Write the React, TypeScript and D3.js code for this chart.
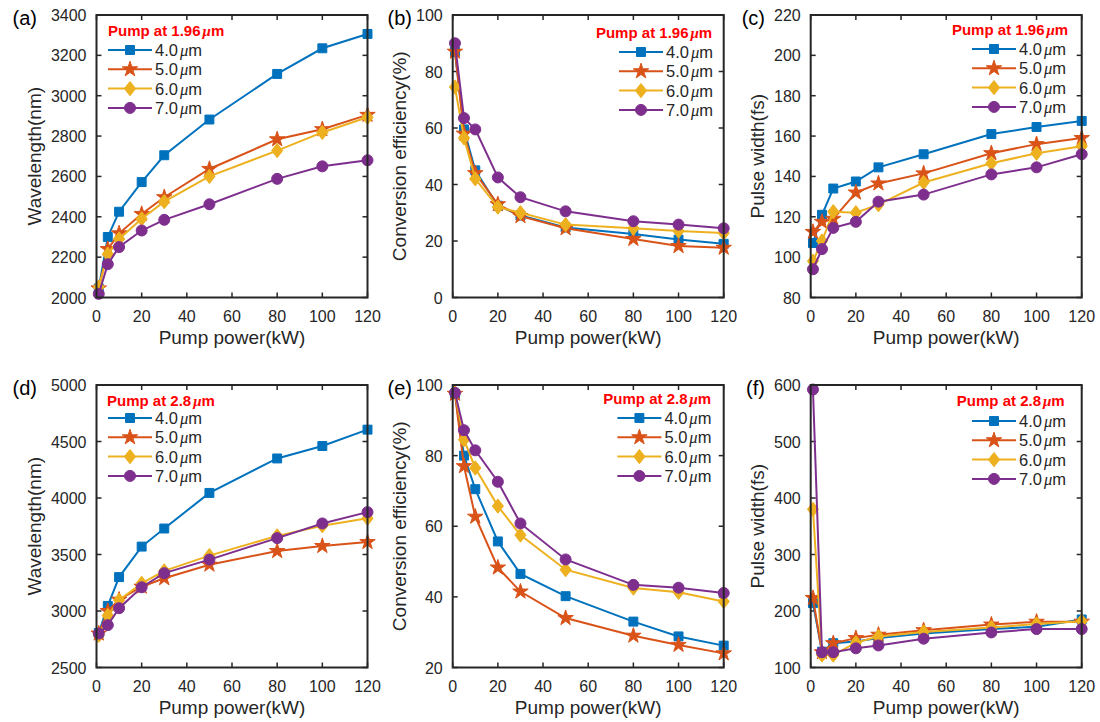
import React from "react";
import * as d3 from "d3";

// ---------------- data ----------------
const power = [1, 5, 10, 20, 30, 50, 80, 100, 120];
const seriesLabels = ["4.0", "5.0", "6.0", "7.0"];
const seriesColors = ["#0072BD", "#D95319", "#EDB120", "#7E2F8E"];
const seriesMarkers = ["square", "star", "diamond", "circle"];
const xTicks = [0, 20, 40, 60, 80, 100, 120];

// (a) wavelength, pump 1.96 um
const wlA_4 = [2045, 2300, 2425, 2572, 2705, 2882, 3108, 3235, 3306];
const wlA_5 = [2045, 2240, 2318, 2414, 2497, 2637, 2784, 2834, 2905];
const wlA_6 = [2052, 2215, 2290, 2390, 2475, 2600, 2728, 2818, 2893];
const wlA_7 = [2018, 2165, 2250, 2332, 2385, 2462, 2588, 2650, 2680];
// (b) conversion efficiency, pump 1.96 um
const ceB_4 = [87, 59.5, 45, 32.5, 29, 24.8, 22.5, 20.5, 19];
const ceB_5 = [87, 58, 44, 33, 28.8, 24.5, 20.7, 18.2, 17.6];
const ceB_6 = [74.5, 56.5, 42, 32, 30, 25.8, 24.5, 23.5, 22.8];
const ceB_7 = [90, 63.5, 59.5, 42.5, 35.5, 30.5, 27, 25.8, 24.5];
// (c) pulse width, pump 1.96 um
const pwC_4 = [107, 121, 134, 137.5, 144.5, 151, 161, 164.5, 167.5];
const pwC_5 = [112.5, 117.5, 119, 132, 136.5, 141.5, 151.5, 156, 159];
const pwC_6 = [98, 108, 122.5, 122, 126, 137, 146.5, 151.5, 155];
const pwC_7 = [94, 104, 114.5, 117.5, 127.5, 131, 141, 144.5, 151];
// (d) wavelength, pump 2.8 um
const wlD_4 = [2805, 3045, 3300, 3570, 3730, 4045, 4350, 4460, 4605];
const wlD_5 = [2800, 3000, 3100, 3215, 3290, 3410, 3530, 3575, 3610];
const wlD_6 = [2785, 2960, 3095, 3245, 3355, 3490, 3665, 3755, 3820];
const wlD_7 = [2800, 2875, 3025, 3210, 3335, 3455, 3645, 3775, 3875];
// (e) conversion efficiency, pump 2.8 um
const ceE_4 = [97.5, 80, 70.5, 55.7, 46.5, 40.2, 33, 28.8, 26.2];
const ceE_5 = [97.5, 77, 62.7, 48.3, 41.5, 34, 29, 26.4, 24];
const ceE_6 = [97.8, 84.5, 76.5, 65.7, 57.5, 47.7, 42.5, 41.3, 38.7];
const ceE_7 = [97.8, 87.2, 81.5, 72.6, 60.8, 50.6, 43.4, 42.6, 41.1];
// (f) pulse width, pump 2.8 um
const pwF_4 = [214, 128, 143, 146, 152, 160, 168, 172, 185];
const pwF_5 = [223, 127, 143, 152, 158, 166, 176, 181, 181];
const pwF_6 = [380, 122, 122, 144, 155, 163, 171, 177, 182];
const pwF_7 = [592, 127, 127, 134, 139, 151, 162, 168, 168];

const yTicksA = [2000, 2200, 2400, 2600, 2800, 3000, 3200, 3400];
const yTicksB = [0, 20, 40, 60, 80, 100];
const yTicksC = [80, 100, 120, 140, 160, 180, 200, 220];
const yTicksD = [2500, 3000, 3500, 4000, 4500, 5000];
const yTicksE = [20, 40, 60, 80, 100];
const yTicksF = [100, 200, 300, 400, 500, 600];

const panels = [
  { tag: "(a)", ylabel: "Wavelength(nm)", pump: "1.96", yTicks: yTicksA, series: [wlA_4, wlA_5, wlA_6, wlA_7] },
  { tag: "(b)", ylabel: "Conversion efficiency(%)", pump: "1.96", yTicks: yTicksB, series: [ceB_4, ceB_5, ceB_6, ceB_7] },
  { tag: "(c)", ylabel: "Pulse width(fs)", pump: "1.96", yTicks: yTicksC, series: [pwC_4, pwC_5, pwC_6, pwC_7] },
  { tag: "(d)", ylabel: "Wavelength(nm)", pump: "2.8", yTicks: yTicksD, series: [wlD_4, wlD_5, wlD_6, wlD_7] },
  { tag: "(e)", ylabel: "Conversion efficiency(%)", pump: "2.8", yTicks: yTicksE, series: [ceE_4, ceE_5, ceE_6, ceE_7] },
  { tag: "(f)", ylabel: "Pulse width(fs)", pump: "2.8", yTicks: yTicksF, series: [pwF_4, pwF_5, pwF_6, pwF_7] },
];

// ---------------- layout ----------------
const colLeft = [96.5, 452.7, 810.7];
const axW = 271;
const rowTop = [15, 385];
const axH = 282.5;
const tagX = [37, 412, 765];
const ylabX = [35, 400, 758];
const legendLayout = [
  { lx: 11.5, anchor: "start", tx: 11.5, ty: 21, ry: 35 },
  { lx: 166.3, anchor: "end", tx: 259.5, ty: 23, ry: 37 },
  { lx: 161.3, anchor: "end", tx: 257.5, ty: 20, ry: 34 },
  { lx: 11.5, anchor: "start", tx: 10.5, ty: 21, ry: 33 },
  { lx: 164.7, anchor: "end", tx: 258.5, ty: 19, ry: 33 },
  { lx: 161.3, anchor: "end", tx: 254, ty: 21, ry: 36 },
];

const INK = "#262626";
const FONT = "'Liberation Sans', Arial, Helvetica, sans-serif";

const diamondType = {
  draw(ctx: any, size: number) {
    const h = Math.sqrt(size) * 0.8;
    const w = h * 0.78;
    ctx.moveTo(0, -h);
    ctx.lineTo(w, 0);
    ctx.lineTo(0, h);
    ctx.lineTo(-w, 0);
    ctx.closePath();
  },
};

function markerPath(kind: string): string {
  if (kind === "square") return d3.symbol(d3.symbolSquare, 80)() as string;
  if (kind === "star") return d3.symbol(d3.symbolStar, 74)() as string;
  if (kind === "diamond") return d3.symbol(diamondType as any, 80)() as string;
  return d3.symbol(d3.symbolCircle, 95)() as string;
}

function Mu() {
  return (
    <tspan fontFamily="'Liberation Serif', 'DejaVu Serif', serif" fontStyle="italic" dx="2">
      μ
    </tspan>
  );
}

function Panel({ p, i }: { p: any; i: number }) {
  const col = i % 3;
  const row = Math.floor(i / 3);
  const x0 = colLeft[col];
  const y0 = rowTop[row];
  const yd = [p.yTicks[0], p.yTicks[p.yTicks.length - 1]];
  const x = d3.scaleLinear().domain([0, 120]).range([x0, x0 + axW]);
  const y = d3.scaleLinear().domain(yd).range([y0 + axH, y0]);
  const line = d3
    .line<number>()
    .x((_, k) => x(power[k]))
    .y((v) => y(v));
  const tl = 5;
  const lg = legendLayout[i];
  const lx0 = x0 + lg.lx;
  const lineLen = 44;
  return (
    <g>
      {xTicks.map((t) => (
        <g key={"xt" + t}>
          <line x1={x(t)} x2={x(t)} y1={y0 + axH} y2={y0 + axH - tl} stroke={INK} strokeWidth={1.5} />
          <line x1={x(t)} x2={x(t)} y1={y0} y2={y0 + tl} stroke={INK} strokeWidth={1.5} />
          <text x={x(t)} y={y0 + axH + 24} textAnchor="middle" fontSize={16} fill={INK} fontFamily={FONT}>
            {t}
          </text>
        </g>
      ))}
      {p.yTicks.map((t: number) => (
        <g key={"yt" + t}>
          <line x1={x0} x2={x0 + tl} y1={y(t)} y2={y(t)} stroke={INK} strokeWidth={1.5} />
          <line x1={x0 + axW} x2={x0 + axW - tl} y1={y(t)} y2={y(t)} stroke={INK} strokeWidth={1.5} />
          <text x={x0 - 10} y={y(t) + 6} textAnchor="end" fontSize={16} fill={INK} fontFamily={FONT}>
            {t}
          </text>
        </g>
      ))}
      {p.series.map((s: number[], si: number) => (
        <g key={"s" + si}>
          <path d={line(s) as string} fill="none" stroke={seriesColors[si]} strokeWidth={2} />
          {s.map((v, k) => (
            <path
              key={k}
              d={markerPath(seriesMarkers[si])}
              transform={`translate(${x(power[k])},${y(v)})`}
              fill={seriesColors[si]}
              stroke={seriesColors[si]}
              strokeWidth={1}
            />
          ))}
        </g>
      ))}
      <rect x={x0} y={y0} width={axW} height={axH} fill="none" stroke={INK} strokeWidth={2} />
      <text
        x={x0 + lg.tx}
        y={y0 + lg.ty}
        textAnchor={lg.anchor}
        fontSize={15}
        fontWeight="bold"
        fill="#FF0000"
        fontFamily={FONT}
      >
        {"Pump at " + p.pump}
        <Mu />
        m
      </text>
      {seriesLabels.map((lab, si) => {
        const ry = y0 + lg.ry + si * 19.3;
        return (
          <g key={"lg" + si}>
            <line x1={lx0} x2={lx0 + lineLen} y1={ry} y2={ry} stroke={seriesColors[si]} strokeWidth={2} />
            <path
              d={markerPath(seriesMarkers[si])}
              transform={`translate(${lx0 + lineLen / 2},${ry})`}
              fill={seriesColors[si]}
              stroke={seriesColors[si]}
              strokeWidth={1}
            />
            <text x={lx0 + lineLen + 3} y={ry + 6} fontSize={16.5} fill={INK} fontFamily={FONT}>
              {lab}
              <Mu />
              m
            </text>
          </g>
        );
      })}
      <text
        transform={`translate(${ylabX[col] + 6},${y0 + axH / 2}) rotate(-90)`}
        textAnchor="middle"
        fontSize={19}
        fill={INK}
        fontFamily={FONT}
      >
        {p.ylabel}
      </text>
      <text x={x0 + axW / 2} y={y0 + axH + 46} textAnchor="middle" fontSize={19} fill={INK} fontFamily={FONT}>
        Pump power(kW)
      </text>
      <text x={tagX[col]} y={y0 + 10} textAnchor="end" fontSize={20} fill="#000" fontFamily={FONT}>
        {p.tag}
      </text>
    </g>
  );
}

export default function App() {
  return (
    <svg
      width={1100}
      height={722}
      style={{ position: "absolute", left: 0, top: 0, background: "#fff" }}
      xmlns="http://www.w3.org/2000/svg"
    >
      <rect width={1100} height={722} fill="#fff" />
      {panels.map((p, i) => (
        <Panel key={i} p={p} i={i} />
      ))}
    </svg>
  );
}
